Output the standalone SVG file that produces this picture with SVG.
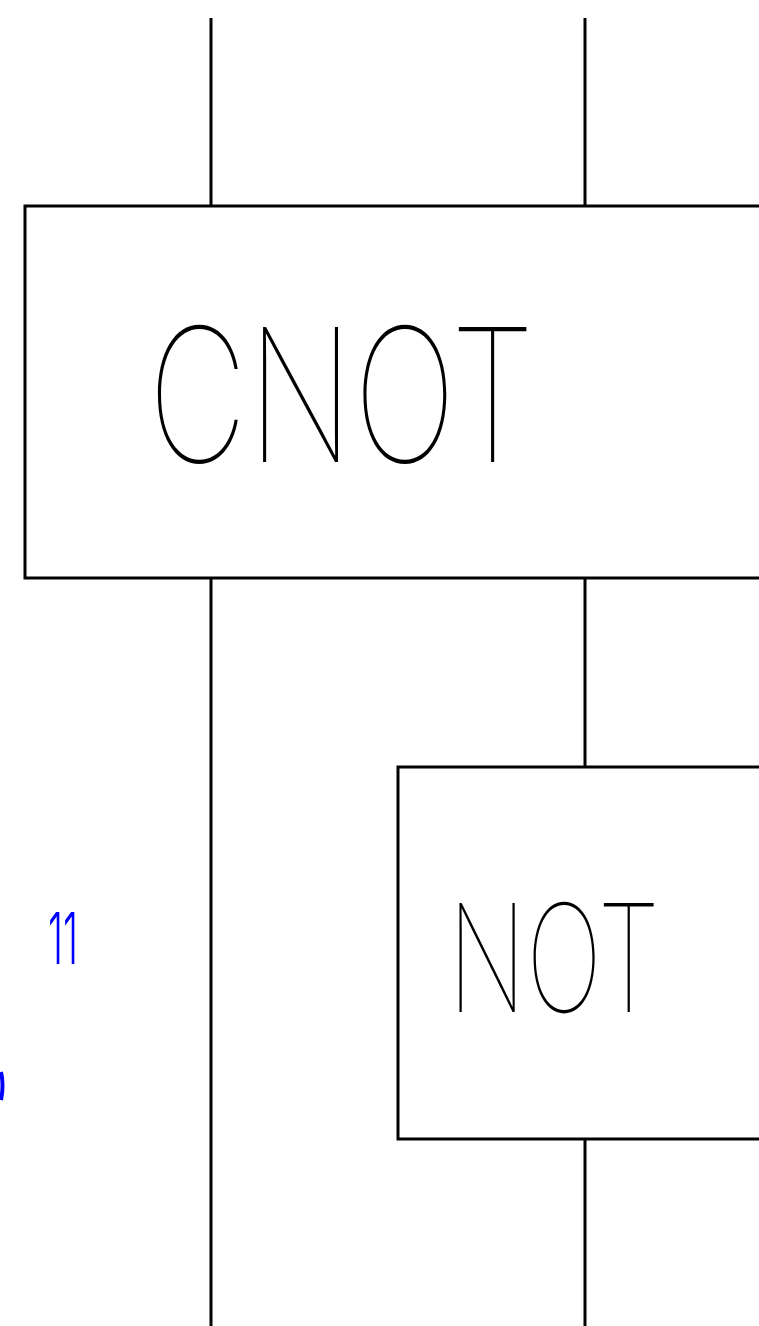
<svg xmlns="http://www.w3.org/2000/svg" width="759" height="1326" viewBox="0 0 759 1326">
<style>
.w{stroke:#000;stroke-width:3;fill:none}
.box{fill:#fff;stroke:#000;stroke-width:3}
.lbl{font-family:Inter,"Liberation Sans",sans-serif;font-weight:100;fill:#000}
.blue{font-family:Inter,"Liberation Sans",sans-serif;font-weight:300;fill:#0000ff}
</style>
<rect width="759" height="1326" fill="#fff"/>
<g id="connectors">
<line class="w" x1="211" y1="18" x2="211" y2="206"/>
<line class="w" x1="585" y1="18" x2="585" y2="206"/>
<line class="w" x1="211" y1="578" x2="211" y2="1326"/>
<line class="w" x1="585" y1="578" x2="585" y2="767"/>
<line class="w" x1="585" y1="1139" x2="585" y2="1326"/>
</g>
<g id="cnot">
<rect class="box" x="25" y="206" width="760" height="372"/>
<text class="lbl" x="148" y="462" font-size="186" textLength="387" lengthAdjust="spacingAndGlyphs">CNOT</text>
</g>
<g id="not">
<rect class="box" x="398" y="767" width="400" height="372"/>
<text class="lbl" x="448" y="1012" font-size="150" textLength="212" lengthAdjust="spacingAndGlyphs">NOT</text>
</g>
<g id="marks">
<text class="blue" x="48" y="964" font-size="72" textLength="30" lengthAdjust="spacingAndGlyphs">11</text>
<path d="M1,1072 Q4,1085 1,1100" stroke="#0000ff" stroke-width="4" fill="none"/>
</g>
</svg>
